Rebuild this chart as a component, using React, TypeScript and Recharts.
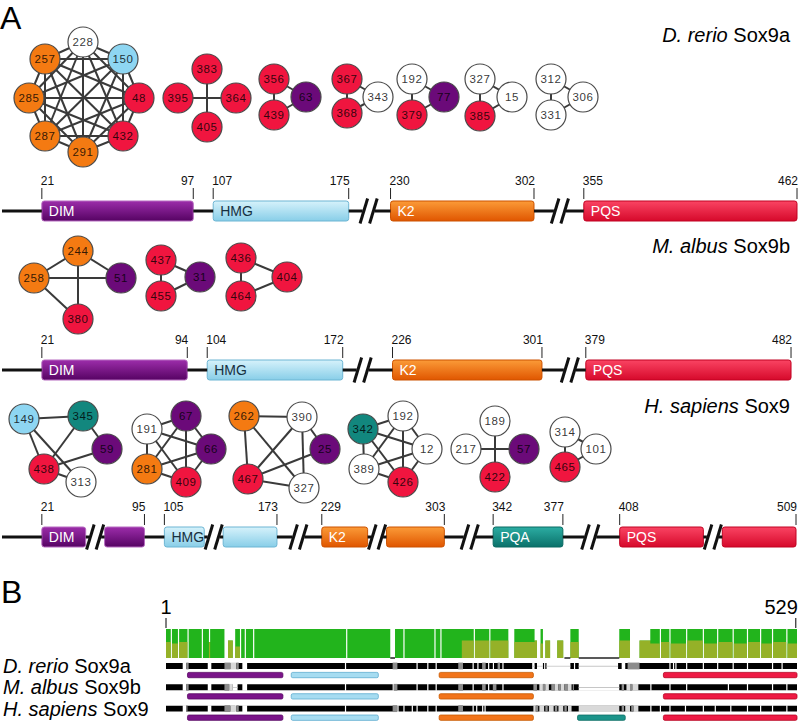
import React from 'react'
import { ComposedChart, Scatter, XAxis, YAxis, ReferenceArea, ReferenceLine, Area } from 'recharts'

const FONT = '"Liberation Sans", Arial, Helvetica, sans-serif'

// ---------- panel A: residue interaction networks ----------
// [residue, colour group, layout x, layout y]
type NodeRow = [string, string, number, number]

const NODE_FILL: Record<string, string> = {
  o: '#f47a12', b: '#8ed6f2', r: '#f0153f', p: '#6b0a79', t: '#12877e', w: '#ffffff',
}

function clique(ids: string[]): [string, string][] {
  const out: [string, string][] = []
  for (let i = 0; i < ids.length; i++) for (let j = i + 1; j < ids.length; j++) out.push([ids[i], ids[j]])
  return out
}

const rerioNodes: NodeRow[] = [
  ['228', 'w', 83, 42], ['150', 'b', 123, 59], ['48', 'r', 139, 98], ['432', 'r', 123, 136],
  ['291', 'o', 83, 152], ['287', 'o', 45, 136], ['285', 'o', 29, 98], ['257', 'o', 45, 59],
  ['383', 'r', 207, 69], ['395', 'r', 178, 98], ['364', 'r', 236, 98], ['405', 'r', 207, 127],
  ['356', 'r', 274, 79], ['439', 'r', 274, 115], ['63', 'p', 306, 97],
  ['367', 'r', 347, 79], ['368', 'r', 347, 113], ['343', 'w', 378, 97],
  ['192', 'w', 412, 79], ['379', 'r', 412, 115], ['77', 'p', 444, 97],
  ['327', 'w', 480, 79], ['385', 'r', 480, 116], ['15', 'w', 512, 97],
  ['312', 'w', 551, 79], ['331', 'w', 551, 115], ['306', 'w', 583, 97],
]
const rerioEdges: [string, string][] = [
  ...clique(['228', '150', '48', '432', '291', '287', '285', '257']),
  ['383', '405'], ['395', '364'],
  ...clique(['356', '439', '63']),
  ...clique(['367', '368', '343']),
  ...clique(['192', '379', '77']),
  ...clique(['327', '385', '15']),
  ...clique(['312', '331', '306']),
]

const albusNodes: NodeRow[] = [
  ['244', 'o', 78, 251], ['258', 'o', 34, 278], ['51', 'p', 121, 278], ['380', 'r', 78, 319],
  ['437', 'r', 161, 260], ['455', 'r', 161, 296], ['31', 'p', 200, 277],
  ['436', 'r', 241, 258], ['464', 'r', 241, 296], ['404', 'r', 287, 277],
]
const albusEdges: [string, string][] = [
  ['244', '258'], ['244', '51'], ['258', '51'], ['244', '380'], ['258', '380'],
  ...clique(['437', '455', '31']),
  ...clique(['436', '464', '404']),
]

const sapiensNodes: NodeRow[] = [
  ['149', 'b', 24, 419], ['345', 't', 83, 416], ['59', 'p', 107, 449], ['438', 'r', 44, 469], ['313', 'w', 81, 482],
  ['191', 'w', 147, 429], ['67', 'p', 186, 416], ['66', 'p', 211, 449], ['281', 'o', 147, 469], ['409', 'r', 186, 482],
  ['262', 'o', 244, 416], ['390', 'w', 302, 417], ['25', 'p', 325, 449], ['467', 'r', 248, 479], ['327', 'w', 304, 488],
  ['342', 't', 363, 429], ['192', 'w', 403, 416], ['12', 'w', 427, 449], ['389', 'w', 364, 469], ['426', 'r', 403, 482],
  ['189', 'w', 495, 421], ['217', 'w', 466, 449], ['57', 'p', 524, 449], ['422', 'r', 495, 477],
  ['314', 'w', 565, 432], ['101', 'w', 596, 449], ['465', 'r', 565, 467],
]
const sapiensEdges: [string, string][] = [
  ['149', '345'], ['149', '438'], ['149', '313'], ['345', '59'], ['345', '438'], ['438', '59'], ['438', '313'],
  ...clique(['191', '67', '66', '281', '409']),
  ['262', '390'], ['262', '467'], ['262', '327'], ['390', '467'], ['390', '327'], ['390', '25'], ['25', '467'], ['467', '327'],
  ...clique(['342', '192', '12', '389', '426']),
  ['189', '422'], ['217', '57'],
  ...clique(['314', '101', '465']),
]

// ---------- panel A: domain maps (residue numbers) ----------
type Dom = { name: string; start: number; end: number }

const rerioDomains: Dom[] = [
  { name: 'DIM', start: 21, end: 97 }, { name: 'HMG', start: 107, end: 175 },
  { name: 'K2', start: 230, end: 302 }, { name: 'PQS', start: 355, end: 462 },
]
const albusDomains: Dom[] = [
  { name: 'DIM', start: 21, end: 94 }, { name: 'HMG', start: 104, end: 172 },
  { name: 'K2', start: 226, end: 301 }, { name: 'PQS', start: 379, end: 482 },
]
const sapiensDomains: Dom[] = [
  { name: 'DIM', start: 21, end: 95 }, { name: 'HMG', start: 105, end: 173 },
  { name: 'K2', start: 229, end: 303 }, { name: 'PQA', start: 342, end: 377 },
  { name: 'PQS', start: 408, end: 509 },
]
// residue windows kept on the broken axis (everything between is cut out at a //)
const rerioShown: [number, number][] = [[1, 180], [224, 310], [348, 462]]
const albusShown: [number, number][] = [[1, 177], [216, 310], [376, 482]]
const sapiensShown: [number, number][] = [
  [1, 43], [75, 125], [146, 179], [222, 252], [274, 311], [335, 386], [398, 450], [472, 509],
]

const DOMAIN_STYLE: Record<string, { top: string; bottom: string; edge: string; text: string }> = {
  DIM: { top: '#9c2daa', bottom: '#560363', edge: '#b66ac0', text: '#ffffff' },
  HMG: { top: '#d6f2fb', bottom: '#88cee8', edge: '#6db5d3', text: '#17303f' },
  K2: { top: '#fb9b38', bottom: '#e05600', edge: '#cc5200', text: '#ffffff' },
  PQS: { top: '#fa4463', bottom: '#d6092b', edge: '#c10322', text: '#ffffff' },
  PQA: { top: '#2cada3', bottom: '#0a716a', edge: '#0a6a62', text: '#ffffff' },
}

// ---------- panel B: alignment ----------
// [from column, to column, full-identity height, partial-identity height]
const consRuns: [number, number, number, number][] = [
  [1, 4, 1, 0.55], [5, 5, 0, 0], [6, 10, 1, 0.5], [11, 11, 0, 0], [12, 18, 1, 0.55], [19, 19, 0, 0],
  [20, 30, 1, 0], [31, 31, 0, 0], [32, 36, 1, 0], [37, 37, 0.55, 0.55], [38, 49, 1, 0], [50, 52, 0, 0],
  [53, 56, 0.6, 0.6], [57, 58, 0, 0], [59, 62, 1, 0.4], [63, 63, 0, 0], [64, 66, 1, 0], [67, 67, 0, 0],
  [68, 73, 1, 0], [74, 74, 0, 0], [75, 151, 1, 0], [152, 152, 0, 0], [153, 188, 1, 0], [189, 192, 0, 0],
  [193, 199, 1, 0], [200, 200, 0, 0], [201, 225, 1, 0], [226, 226, 0, 0], [227, 230, 1, 0], [231, 231, 0, 0],
  [232, 248, 1, 0], [249, 258, 1, 0.6], [259, 259, 0, 0], [260, 271, 1, 0.6], [272, 272, 0, 0],
  [273, 287, 1, 0.6], [288, 292, 0, 0], [293, 309, 1, 0.55], [310, 311, 0.6, 0.6], [312, 314, 0, 0],
  [315, 316, 1, 0.5], [317, 318, 0, 0], [319, 322, 0.6, 0.6], [323, 328, 0, 0], [329, 333, 0.6, 0.6],
  [334, 339, 0, 0], [340, 346, 1, 0.55], [347, 380, 0, 0], [381, 389, 1, 0.6], [390, 397, 0, 0],
  [398, 406, 0.6, 0.6], [407, 414, 1, 0.5], [415, 415, 0, 0], [416, 422, 1, 0.55], [423, 423, 0, 0],
  [424, 436, 1, 0.5], [437, 437, 0, 0], [438, 450, 1, 0.6], [451, 451, 0, 0], [452, 462, 1, 0.5],
  [463, 463, 0, 0], [464, 475, 1, 0.55], [476, 476, 0, 0], [477, 487, 1, 0.5], [488, 488, 0, 0],
  [489, 498, 1, 0.55], [499, 499, 0, 0], [500, 508, 1, 0.5], [509, 509, 0, 0], [510, 520, 1, 0.55],
  [521, 521, 0, 0], [522, 529, 1, 0.5],
]
const consZero: [number, number][] = [[189, 192], [335, 339], [347, 380]]

const speciesLabels: [string, string][] = [['D. rerio', 'Sox9a'], ['M. albus', 'Sox9b'], ['H. sapiens', 'Sox9']]

// sequence track shading on black: w white, m grey, l light grey, g alignment gap
type Run = [number, number, string]
const rerioTrack: Run[] = [
  [15, 17, 'w'], [18, 19, 'm'], [36, 38, 'w'], [50, 54, 'm'], [55, 59, 'l'], [60, 61, 'm'], [65, 68, 'w'],
  [151, 151, 'w'], [191, 194, 'm'], [211, 211, 'w'], [220, 220, 'w'], [227, 227, 'w'], [246, 249, 'm'],
  [258, 258, 'w'], [262, 262, 'w'], [266, 268, 'm'], [271, 271, 'w'], [275, 275, 'w'], [279, 280, 'm'],
  [283, 283, 'w'], [308, 309, 'g'], [312, 316, 'g'], [318, 318, 'w'], [320, 339, 'g'], [343, 343, 'w'],
  [347, 379, 'g'], [383, 385, 'w'], [388, 397, 'm'], [423, 423, 'w'], [426, 426, 'w'], [428, 428, 'w'],
  [437, 437, 'w'], [451, 451, 'w'], [463, 463, 'w'], [476, 476, 'w'], [488, 488, 'w'], [509, 509, 'w'],
  [517, 517, 'w'],
]
const albusTrack: Run[] = [
  [15, 17, 'w'], [18, 19, 'm'], [36, 38, 'w'], [50, 53, 'm'], [54, 56, 'l'], [57, 60, 'g'], [65, 68, 'w'],
  [151, 151, 'w'], [191, 191, 'w'], [192, 194, 'm'], [211, 211, 'w'], [220, 220, 'w'], [227, 227, 'w'],
  [246, 249, 'm'], [258, 258, 'w'], [266, 268, 'm'], [271, 271, 'w'], [275, 277, 'm'], [283, 283, 'w'],
  [309, 311, 'm'], [314, 316, 'l'], [317, 318, 'm'], [319, 321, 'l'], [324, 326, 'm'], [327, 329, 'l'],
  [330, 331, 'm'], [332, 334, 'l'], [335, 337, 'm'], [338, 340, 'l'], [342, 342, 'm'], [347, 380, 'g'],
  [383, 384, 'm'], [387, 389, 'l'], [390, 391, 'm'], [392, 396, 'l'], [407, 407, 'w'], [423, 423, 'w'],
  [437, 437, 'w'], [472, 472, 'w'], [488, 488, 'w'], [509, 509, 'w'], [521, 521, 'w'],
]
const sapiensTrack: Run[] = [
  [15, 17, 'w'], [18, 18, 'm'], [36, 38, 'w'], [50, 54, 'm'], [55, 58, 'l'], [59, 59, 'w'], [60, 61, 'm'],
  [65, 68, 'w'], [151, 151, 'w'], [191, 194, 'm'], [195, 195, 'w'], [200, 200, 'w'], [207, 207, 'w'],
  [211, 211, 'w'], [220, 220, 'w'], [227, 227, 'w'], [246, 249, 'm'], [258, 258, 'w'], [261, 261, 'w'],
  [266, 266, 'w'], [268, 268, 'w'], [309, 310, 'l'], [311, 312, 'm'], [314, 317, 'l'], [319, 320, 'm'],
  [322, 325, 'l'], [327, 328, 'm'], [330, 333, 'l'], [335, 336, 'm'], [338, 340, 'l'], [347, 380, 'l'],
  [383, 384, 'm'], [386, 389, 'l'], [391, 392, 'm'], [393, 396, 'l'], [407, 407, 'w'], [415, 415, 'w'],
  [423, 423, 'w'], [436, 436, 'w'], [451, 451, 'w'], [461, 461, 'w'], [474, 474, 'w'], [488, 488, 'w'],
  [499, 499, 'w'], [509, 509, 'w'], [521, 521, 'w'],
]
const tracks = [rerioTrack, albusTrack, sapiensTrack]

// domain spans on the alignment columns
const alignDomains: { name: string; from: number; to: number; rows: number[] }[] = [
  { name: 'DIM', from: 19, to: 99, rows: [0, 1, 2] },
  { name: 'HMG', from: 106, to: 179, rows: [0, 1, 2] },
  { name: 'K2', from: 230, to: 309, rows: [0, 1, 2] },
  { name: 'PQA', from: 346, to: 386, rows: [2] },
  { name: 'PQS', from: 418, to: 530, rows: [0, 1, 2] },
]

const SHADE: Record<string, string> = { w: '#ffffff', m: '#8c8c8c', l: '#d9d9d9', g: '#ffffff' }
const THIN_FILL: Record<string, string> = {
  DIM: '#7a1489', HMG: '#a6dcf1', K2: '#f2741a', PQA: '#1b948a', PQS: '#ee1a44',
}
const THIN_EDGE: Record<string, string> = {
  DIM: '#5a0a66', HMG: '#5eaccf', K2: '#c85a00', PQA: '#0d6e66', PQS: '#b8001f',
}

// ---------- components ----------
const noShape = () => <g />

function NodeShape(props: any) {
  const { cx, cy, payload } = props
  return (
    <g>
      <circle cx={cx} cy={cy} r={15} fill={NODE_FILL[payload.kind]} stroke="#4a4a4a" strokeWidth={1.2} />
      <text x={cx} y={cy + 4} textAnchor="middle" fontSize={11.5} fontFamily={FONT} letterSpacing={0.6}
        fill="rgba(0,0,0,0.8)">{payload.label}</text>
    </g>
  )
}

function NetworkRow({ nodes, edges, top, height }: { nodes: NodeRow[]; edges: [string, string][]; top: number; height: number }) {
  const pts = nodes.map(([label, kind, x, y]) => ({ label, kind, x, y }))
  const byId = new Map(pts.map((p) => [p.label, p]))
  return (
    <div style={{ position: 'absolute', left: 0, top, width: 799, height }}>
      <ComposedChart width={799} height={height} margin={{ top: 0, right: 0, bottom: 0, left: 0 }}>
        <XAxis type="number" dataKey="x" domain={[0, 799]} hide allowDataOverflow />
        <YAxis type="number" dataKey="y" domain={[top, top + height]} reversed hide allowDataOverflow />
        {edges.map(([a, b], i) => (
          <Scatter key={'e' + i} data={[byId.get(a), byId.get(b)]} stroke="#3a3a3a"
            line={{ stroke: '#3a3a3a', strokeWidth: 2 }} shape={noShape} isAnimationActive={false} />
        ))}
        <Scatter data={pts} shape={NodeShape} isAnimationActive={false} />
      </ComposedChart>
    </div>
  )
}

function TickShape(props: any) {
  const { cx, cy, payload } = props
  return (
    <g>
      <line x1={cx} x2={cx} y1={cy - 12} y2={cy - 23} stroke="#222" strokeWidth={1} />
      <text x={payload.anchor === 'start' ? cx - 1 : cx + 1} y={cy - 26} textAnchor={payload.anchor}
        fontSize={12} fontFamily={FONT} fill="#111">{payload.text}</text>
    </g>
  )
}

function makeDomainShape(gid: string, name: string, label: boolean) {
  return (p: any) => {
    const s = DOMAIN_STYLE[name]
    return (
      <g>
        <defs>
          <linearGradient id={gid} x1="0" y1="0" x2="0" y2="1">
            <stop offset="0" stopColor={s.top} />
            <stop offset="1" stopColor={s.bottom} />
          </linearGradient>
        </defs>
        <rect x={p.x} y={p.y} width={p.width} height={p.height} rx={2.5} fill={`url(#${gid})`} stroke={s.edge} strokeWidth={1} />
        {label && (
          <text x={p.x + 7} y={p.y + p.height / 2 + 5} fontSize={14} fontFamily={FONT} fill={s.text}>{name}</text>
        )}
      </g>
    )
  }
}

function subtract(ints: [number, number][], cuts: { x1: number; x2: number }[]) {
  let cur = ints
  cuts.forEach((c) => {
    const next: [number, number][] = []
    cur.forEach(([s, e]) => {
      if (c.x2 <= s || c.x1 >= e) next.push([s, e])
      else {
        if (c.x1 > s) next.push([s, c.x1])
        if (c.x2 < e) next.push([c.x2, e])
      }
    })
    cur = next
  })
  return cur
}

function DomainRow({ id, top, domains, shown, gap }: { id: string; top: number; domains: Dom[]; shown: [number, number][]; gap: number }) {
  const offs: number[] = []
  let acc = 0
  shown.forEach(([a, b]) => { offs.push(acc); acc += b - a + gap })
  const toC = (r: number) => {
    for (let i = 0; i < shown.length; i++) if (r >= shown[i][0] && r <= shown[i][1]) return offs[i] + r - shown[i][0]
    return NaN
  }
  const segs: { name: string; x1: number; x2: number; label: boolean }[] = []
  domains.forEach((d) => {
    let first = true
    shown.forEach(([a, b], i) => {
      const lo = Math.max(d.start, a)
      const hi = Math.min(d.end, b)
      if (lo < hi) {
        segs.push({ name: d.name, x1: offs[i] + lo - a, x2: offs[i] + hi - a, label: first })
        first = false
      }
    })
  })
  const ticks = domains.flatMap((d) => [
    { x: toC(d.start), y: 0, text: String(d.start), anchor: 'start' },
    { x: toC(d.end), y: 0, text: String(d.end), anchor: 'end' },
  ])
  const ext = gap / 2 - 3
  const bone = subtract(
    shown.map(([a, b], i) => [offs[i] - (i > 0 ? ext : 0), offs[i] + b - a + (i < shown.length - 1 ? ext : 0)] as [number, number]),
    segs,
  )
  const breaks = shown.slice(0, -1).map(([a, b], i) => offs[i] + b - a + gap / 2)
  return (
    <div style={{ position: 'absolute', left: 0, top, width: 799, height: 60 }}>
      <ComposedChart width={799} height={60} margin={{ top: 0, right: 0, bottom: 0, left: 0 }}>
        <XAxis type="number" dataKey="x" domain={[-1, 400]} hide allowDataOverflow />
        <YAxis type="number" dataKey="y" domain={[-20, 40]} hide allowDataOverflow />
        {bone.map(([s, e], i) => (
          <ReferenceLine key={'b' + i} segment={[{ x: s, y: 0 }, { x: e, y: 0 }]} stroke="#111" strokeWidth={3} ifOverflow="visible" />
        ))}
        {breaks.flatMap((c, i) => [-2.4, 2.4].map((dx, k) => (
          <ReferenceLine key={'s' + i + k} segment={[{ x: c + dx - 1.9, y: -12.5 }, { x: c + dx + 1.9, y: 12.5 }]}
            stroke="#111" strokeWidth={3} ifOverflow="visible" />
        )))}
        {segs.map((s, i) => (
          <ReferenceArea key={'d' + i} x1={s.x1} x2={s.x2} y1={-10} y2={10} ifOverflow="visible"
            shape={makeDomainShape(`${id}-${i}`, s.name, s.label)} />
        ))}
        <Scatter data={ticks} shape={TickShape} isAnimationActive={false} />
      </ComposedChart>
    </div>
  )
}

function TopTick(props: any) {
  const { x, y, payload } = props
  const end = payload.value === 529
  return (
    <g>
      <line x1={x} x2={x} y1={y - 11} y2={y - 1} stroke="#000" strokeWidth={1} />
      <text x={end ? x + 2 : x} y={y - 15} textAnchor={end ? 'end' : 'middle'} fontSize={20} fontFamily={FONT} fill="#000">
        {payload.value}
      </text>
    </g>
  )
}

function SpeciesTick(props: any) {
  const { y, payload } = props
  const [genus, gene] = speciesLabels[Math.floor(payload.value)]
  return (
    <text x={3} y={y + 7} fontSize={20} fontFamily={FONT} fill="#000">
      <tspan fontStyle="italic">{genus}</tspan>
      <tspan>{' ' + gene}</tspan>
    </text>
  )
}

function Conservation() {
  const data = consRuns.map(([from, , g, o]) => ({ col: from, g, o }))
  const last = consRuns[consRuns.length - 1]
  data.push({ col: last[1] + 1, g: last[2], o: last[3] })
  return (
    <div style={{ position: 'absolute', left: 0, top: 596, width: 799, height: 64 }}>
      <ComposedChart width={799} height={64} data={data} margin={{ top: 0, right: 2, bottom: 2, left: 166 }}>
        <XAxis type="number" dataKey="col" domain={[1, 530]} orientation="top" height={33} ticks={[1, 529]}
          axisLine={false} tickLine={false} tickSize={0} tickMargin={0} tick={<TopTick />} interval={0} allowDataOverflow />
        <YAxis type="number" domain={[0, 1]} hide allowDataOverflow />
        <Area type="stepAfter" dataKey="g" fill="#22b41c" fillOpacity={1} stroke="none" isAnimationActive={false} />
        <Area type="stepAfter" dataKey="o" fill="#a9b02a" fillOpacity={0.85} stroke="none" isAnimationActive={false} />
        {consZero.map(([a, b], i) => (
          <ReferenceLine key={'z' + i} segment={[{ x: a, y: 0 }, { x: b + 1, y: 0 }]} stroke="#222" strokeWidth={1.5} ifOverflow="visible" />
        ))}
      </ComposedChart>
    </div>
  )
}

function Tracks() {
  return (
    <div style={{ position: 'absolute', left: 0, top: 650, width: 799, height: 71 }}>
      <ComposedChart width={799} height={71} margin={{ top: 0, right: 2, bottom: 0, left: 0 }}>
        <XAxis type="number" dataKey="x" domain={[1, 530]} hide allowDataOverflow />
        <YAxis type="number" domain={[-0.33, 3]} reversed width={166} ticks={[0.42, 1.42, 2.42]} interval={0}
          axisLine={false} tickLine={false} tick={<SpeciesTick />} allowDataOverflow />
        {tracks.map((_, i) => (
          <ReferenceArea key={'k' + i} x1={1} x2={530} y1={i + 0.28} y2={i + 0.56} fill="#000" fillOpacity={1} stroke="none" />
        ))}
        {tracks.flatMap((runs, i) => runs.map(([a, b, code], j) => (
          <ReferenceArea key={'r' + i + '-' + j} x1={a} x2={b + 1} y1={i + 0.26} y2={i + 0.58}
            fill={SHADE[code]} fillOpacity={1} stroke="none" />
        )))}
        {tracks.flatMap((runs, i) => runs.filter((r) => r[2] === 'g').map(([a, b], j) => (
          <ReferenceArea key={'gl' + i + '-' + j} x1={a} x2={b + 1} y1={i + 0.41} y2={i + 0.45}
            fill="#c6c6c6" fillOpacity={1} stroke="none" />
        )))}
        {alignDomains.flatMap((d) => d.rows.map((i) => (
          <ReferenceArea key={d.name + i} x1={d.from} x2={d.to} y1={i + 0.72} y2={i + 0.97}
            fill={THIN_FILL[d.name]} fillOpacity={1} stroke={THIN_EDGE[d.name]} strokeWidth={0.8} radius={1.5} />
        )))}
      </ComposedChart>
    </div>
  )
}

export default function App() {
  return (
    <div style={{ position: 'absolute', left: 0, top: 0, width: 799, height: 721, background: '#fff', overflow: 'hidden' }}>
      <svg width={799} height={721} style={{ position: 'absolute', left: 0, top: 0 }}>
        <text x={0} y={29} fontSize={32} fontFamily={FONT} fill="#000">A</text>
        <text x={1} y={603} fontSize={32} fontFamily={FONT} fill="#000">B</text>
        {[
          { y: 42, i: 0 },
          { y: 253, i: 1 },
          { y: 413, i: 2 },
        ].map(({ y, i }) => (
          <text key={i} x={790} y={y} textAnchor="end" fontSize={20} fontFamily={FONT} fill="#000">
            <tspan fontStyle="italic">{speciesLabels[i][0]}</tspan>
            <tspan>{' ' + speciesLabels[i][1]}</tspan>
          </text>
        ))}
      </svg>
      <NetworkRow nodes={rerioNodes} edges={rerioEdges} top={0} height={172} />
      <DomainRow id="rer" top={171} domains={rerioDomains} shown={rerioShown} gap={10} />
      <NetworkRow nodes={albusNodes} edges={albusEdges} top={228} height={110} />
      <DomainRow id="alb" top={330} domains={albusDomains} shown={albusShown} gap={10} />
      <NetworkRow nodes={sapiensNodes} edges={sapiensEdges} top={398} height={110} />
      <DomainRow id="sap" top={497} domains={sapiensDomains} shown={sapiensShown} gap={9.5} />
      <Conservation />
      <Tracks />
    </div>
  )
}
